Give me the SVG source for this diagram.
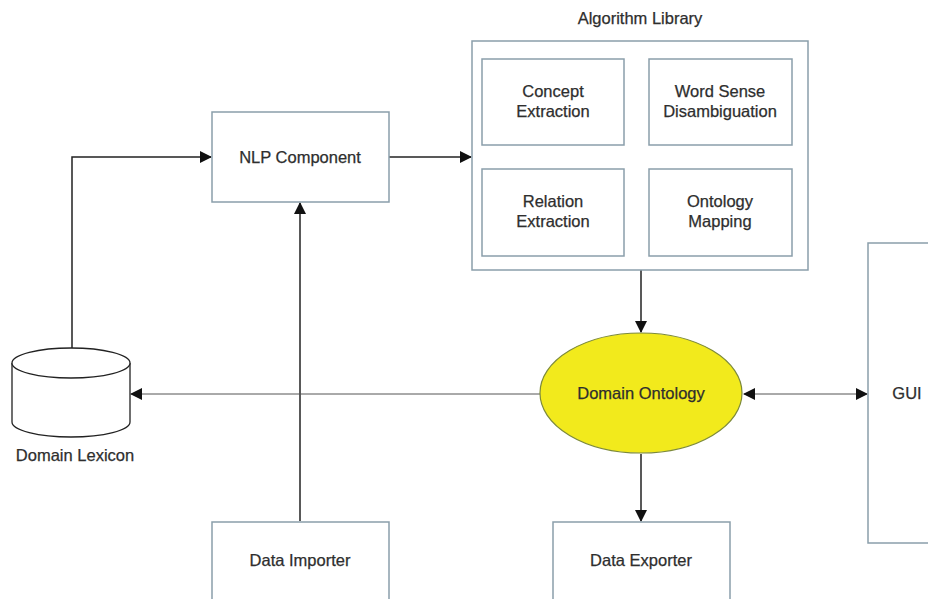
<svg xmlns="http://www.w3.org/2000/svg" width="928" height="599" viewBox="0 0 928 599">
<style>
.box{fill:#fff;stroke:#8a9eab;stroke-width:1.5}
.lbl{font-family:"Liberation Sans",Arial,sans-serif;font-size:16.5px;fill:#2e2e2e;stroke:#2e2e2e;stroke-width:0.25;text-anchor:middle}
.con{fill:none;stroke:#222;stroke-width:1.5}
.thin{fill:none;stroke:#555;stroke-width:1}
</style>
<defs>
<marker id="ah" markerWidth="12" markerHeight="12" refX="11" refY="6" orient="auto" markerUnits="userSpaceOnUse">
<path d="M0,0 L12,6 L0,12 Z" fill="#111"/>
</marker>
<marker id="ahs" markerWidth="12" markerHeight="12" refX="1" refY="6" orient="auto" markerUnits="userSpaceOnUse">
<path d="M12,0 L0,6 L12,12 Z" fill="#111"/>
</marker>
</defs>
<rect width="928" height="599" fill="#fff"/>
<g id="connectors">
<path class="con" d="M72,348 L72,157 L211,157" marker-end="url(#ah)"/>
<path class="con" d="M389,157 L471,157" marker-end="url(#ah)"/>
<path class="con" d="M300,521 L300,203" marker-end="url(#ah)"/>
<path class="con" d="M641,270 L641,332" marker-end="url(#ah)"/>
<path class="thin" d="M540,394 L131,394" marker-end="url(#ah)"/>
<path class="thin" d="M744,394 L867,394" marker-start="url(#ahs)" marker-end="url(#ah)"/>
<path class="con" d="M641,454 L641,521" marker-end="url(#ah)"/>
</g>
<g id="algorithm-library">
<text class="lbl" x="640" y="24">Algorithm Library</text>
<rect class="box" x="472" y="41" width="336" height="229"/>
</g>
<g id="concept-extraction">
<rect class="box" x="482" y="59" width="142" height="86"/>
<text class="lbl" x="553" y="97">Concept</text>
<text class="lbl" x="553" y="117">Extraction</text>
</g>
<g id="word-sense">
<rect class="box" x="649" y="59" width="143" height="86"/>
<text class="lbl" x="720" y="97">Word Sense</text>
<text class="lbl" x="720" y="117">Disambiguation</text>
</g>
<g id="relation-extraction">
<rect class="box" x="482" y="169" width="142" height="87"/>
<text class="lbl" x="553" y="207">Relation</text>
<text class="lbl" x="553" y="227">Extraction</text>
</g>
<g id="ontology-mapping">
<rect class="box" x="649" y="169" width="143" height="87"/>
<text class="lbl" x="720" y="207">Ontology</text>
<text class="lbl" x="720" y="227">Mapping</text>
</g>
<g id="nlp-component">
<rect class="box" x="212" y="112" width="177" height="90"/>
<text class="lbl" x="300" y="163">NLP Component</text>
</g>
<g id="domain-lexicon">
<path d="M12,363 L12,422 A59,15 0 0 0 130,422 L130,363" fill="#fff" stroke="#222" stroke-width="1.3"/>
<ellipse cx="71" cy="363" rx="59" ry="15" fill="#fff" stroke="#222" stroke-width="1.3"/>
<text class="lbl" x="75" y="461">Domain Lexicon</text>
</g>
<g id="domain-ontology">
<ellipse cx="641" cy="393" rx="101" ry="60" fill="#f2ea1c" stroke="#7d8a3a" stroke-width="1.2"/>
<text class="lbl" x="641" y="399">Domain Ontology</text>
</g>
<g id="gui">
<rect class="box" x="868" y="243" width="70" height="300"/>
<text class="lbl" x="907" y="399">GUI</text>
</g>
<g id="data-importer">
<rect class="box" x="212" y="522" width="177" height="90"/>
<text class="lbl" x="300" y="566">Data Importer</text>
</g>
<g id="data-exporter">
<rect class="box" x="553" y="522" width="177" height="90"/>
<text class="lbl" x="641" y="566">Data Exporter</text>
</g>
</svg>
